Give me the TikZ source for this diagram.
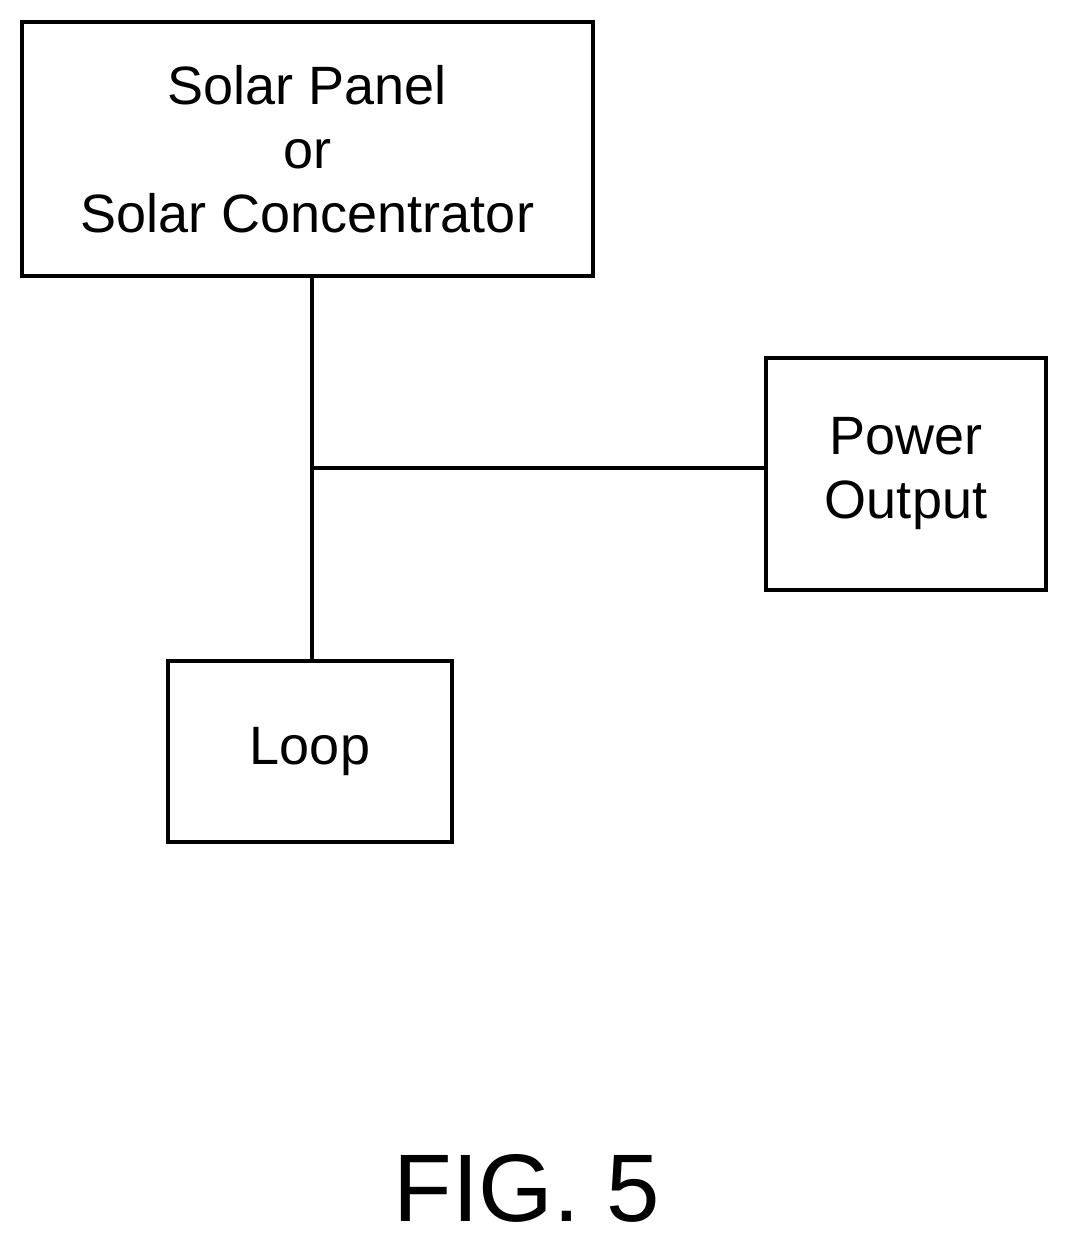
\documentclass[tikz,border=0pt]{standalone}
\usepackage{fontspec}
\setmainfont{Liberation Sans}
\begin{document}
\begin{tikzpicture}[x=1pt,y=-1pt,
  box/.style={draw,line width=4pt,inner sep=0pt,align=center,font=\fontsize{54}{64}\selectfont},
  wire/.style={line width=4pt}]
\useasboundingbox (0,0) rectangle (1068,1242);
\node[box,minimum width=571pt,minimum height=254pt] (solar) at (307.5,149) {Solar Panel\\or\\Solar Concentrator};
\node[box,minimum width=280pt,minimum height=232pt] (power) at (906,474) {Power\\Output};
\node[box,minimum width=284pt,minimum height=181pt] (loop) at (310,751.5) {Loop};
\coordinate (j) at (312,468);
\draw[wire] (solar.south -| j) -- (loop.north -| j);
\draw[wire] (j) -- (j -| power.west);
\node[font=\fontsize{96}{110}\selectfont] (fig) at (527,1188) {FIG. 5};
\end{tikzpicture}
\end{document}
